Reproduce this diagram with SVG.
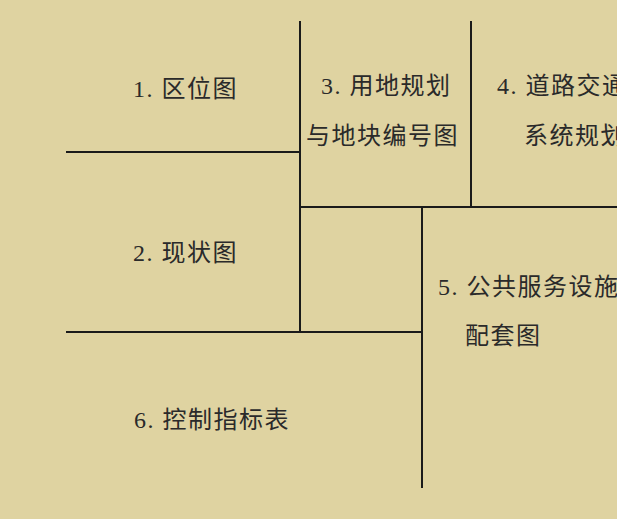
<svg xmlns="http://www.w3.org/2000/svg" width="617" height="519" viewBox="0 0 617 519">
<style>
.bg{fill:#dfd3a1}
.ln{stroke:#1a1a1a;stroke-width:2;fill:none;stroke-linecap:butt}
.t{font-family:"Liberation Serif","Noto Sans CJK SC",serif;font-size:24px;fill:#2a2a2a;letter-spacing:1.5px}
</style>
<rect class="bg" x="0" y="0" width="617" height="519"/>
<g id="connectors">
<line class="ln" x1="300" y1="21" x2="300" y2="333"/>
<line class="ln" x1="471" y1="21" x2="471" y2="208"/>
<line class="ln" x1="66" y1="152" x2="300" y2="152"/>
<line class="ln" x1="300" y1="207" x2="617" y2="207"/>
<line class="ln" x1="422" y1="207" x2="422" y2="488"/>
<line class="ln" x1="66" y1="332" x2="422" y2="332"/>
</g>
<g id="node1"><text class="t" x="133" y="96.5">1. 区位图</text></g>
<g id="node2"><text class="t" x="133" y="261">2. 现状图</text></g>
<g id="node3"><text class="t" x="321" y="94">3. 用地规划</text><text class="t" x="306" y="143.5">与地块编号图</text></g>
<g id="node4"><text class="t" x="497" y="94">4. 道路交通</text><text class="t" x="524" y="143.5">系统规划</text></g>
<g id="node5"><text class="t" x="438" y="294.5">5. 公共服务设施</text><text class="t" x="465" y="343.5">配套图</text></g>
<g id="node6"><text class="t" x="134" y="427.5">6. 控制指标表</text></g>
</svg>
